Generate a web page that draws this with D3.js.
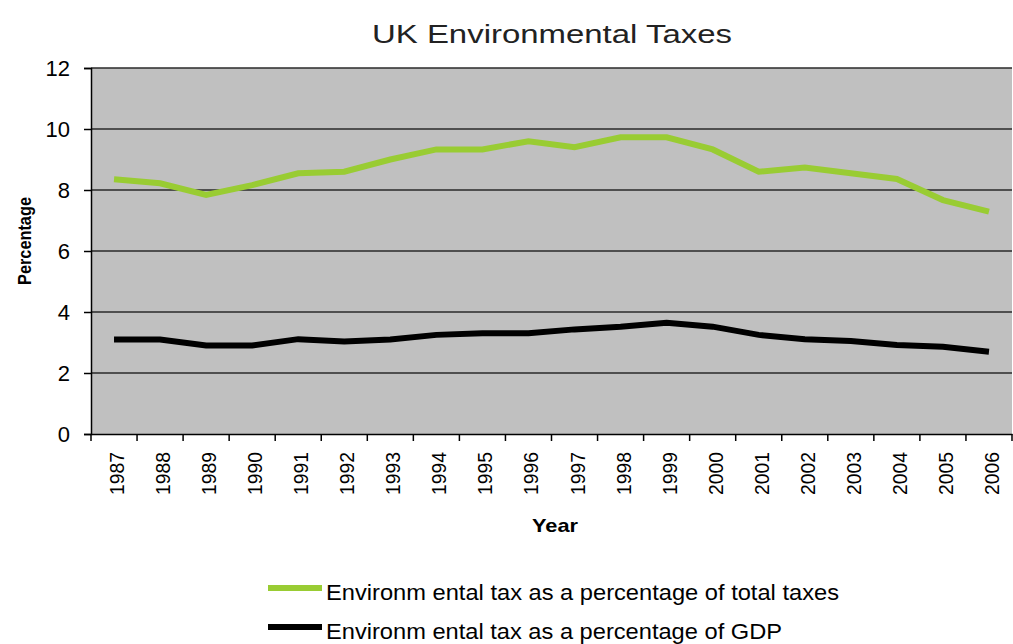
<!DOCTYPE html>
<html><head><meta charset="utf-8">
<script src="https://cdn.jsdelivr.net/npm/d3@7"></script>
<style>body{margin:0;background:#fff;}svg{display:block;font-family:"Liberation Sans",Arial,sans-serif;}</style>
</head><body>
<svg id="c" width="1013" height="644"></svg>
<script>
const years = ["1987","1988","1989","1990","1991","1992","1993","1994","1995","1996","1997","1998","1999","2000","2001","2002","2003","2004","2005","2006"];
const totalTaxes = [8.35,8.22,7.84,8.16,8.55,8.6,9.0,9.33,9.33,9.6,9.4,9.73,9.73,9.33,8.6,8.74,8.55,8.36,7.67,7.29];
const gdp = [3.1,3.1,2.9,2.9,3.11,3.03,3.1,3.25,3.3,3.3,3.43,3.52,3.65,3.52,3.25,3.11,3.05,2.92,2.86,2.7];
const yTicks = [0,2,4,6,8,10,12];
const seriesNames = ["Environm ental tax as a percentage of total taxes","Environm ental tax as a percentage of GDP"];
const colors = ["#99cc33","#000000"];

const svg = d3.select("#c");
const m = {l:91, r:1012, t:68, b:434};
const x = d3.scaleBand().domain(years).range([m.l, m.r]);
const y = d3.scaleLinear().domain([0,12]).range([m.b, m.t]);

svg.append("rect").attr("x",m.l).attr("y",m.t).attr("width",m.r-m.l).attr("height",m.b-m.t).attr("fill","#c0c0c0");
svg.append("g").selectAll("line").data(yTicks.filter(d=>d>0)).join("line")
  .attr("x1",m.l).attr("x2",m.r).attr("y1",d=>y(d)).attr("y2",d=>y(d))
  .attr("stroke","#2a2a2a").attr("stroke-width",1.5);

const yAx = svg.append("g").attr("transform",`translate(${m.l},0)`)
  .call(d3.axisLeft(y).tickValues(yTicks).tickSize(7).tickPadding(14));
yAx.select(".domain").attr("stroke","#000").attr("stroke-width",1.5);
yAx.selectAll(".tick line").attr("stroke","#000").attr("stroke-width",1.5);
yAx.selectAll("text").attr("font-size",22).attr("fill","#000").attr("dy","0.36em")
  .style("font-family","Liberation Sans, Arial, sans-serif");

const xAx = svg.append("g").attr("transform",`translate(0,${m.b})`)
  .call(d3.axisBottom(x).tickSize(0).tickFormat(""));
xAx.select(".domain").attr("stroke","#000").attr("stroke-width",1.5);
svg.append("g").selectAll("line").data(d3.range(years.length+1)).join("line")
  .attr("x1",i=>m.l+i*x.step()).attr("x2",i=>m.l+i*x.step())
  .attr("y1",m.b).attr("y2",m.b+7).attr("stroke","#000").attr("stroke-width",1.5);
svg.append("g").selectAll("text").data(years).join("text")
  .attr("transform",d=>`translate(${x(d)+x.bandwidth()/2+10},${m.b+18}) rotate(-90)`)
  .attr("text-anchor","end").attr("font-size",21)
  .attr("textLength",43).attr("lengthAdjust","spacingAndGlyphs").text(d=>d);

const line = d3.line().x((d,i)=>x(years[i])+x.bandwidth()/2).y(d=>y(d));
[totalTaxes,gdp].forEach((s,k)=>{
  svg.append("path").datum(s).attr("d",line).attr("fill","none")
    .attr("stroke",colors[k]).attr("stroke-width",6).attr("stroke-linejoin","miter");
});

svg.append("text").attr("x",372).attr("y",43)
  .attr("font-size",26).attr("textLength",360).attr("lengthAdjust","spacingAndGlyphs")
  .attr("fill","#222").text("UK Environmental Taxes");
svg.append("text").attr("x",532).attr("y",532)
  .attr("font-size",19).attr("font-weight","bold").attr("textLength",46).attr("lengthAdjust","spacingAndGlyphs").text("Year");
svg.append("text").attr("transform","translate(31,285) rotate(-90)")
  .attr("font-size",18).attr("font-weight","bold").attr("textLength",88).attr("lengthAdjust","spacingAndGlyphs").text("Percentage");

const lg = svg.append("g");
const lgLens = [513,456];
seriesNames.forEach((n,k)=>{
  const yy = 588 + k*39;
  lg.append("line").attr("x1",268).attr("x2",322).attr("y1",yy).attr("y2",yy).attr("stroke",colors[k]).attr("stroke-width",6);
  lg.append("text").attr("x",326).attr("y",yy+12).attr("font-size",22)
    .attr("textLength",lgLens[k]).attr("lengthAdjust","spacingAndGlyphs").text(n);
});
</script>
</body></html>
